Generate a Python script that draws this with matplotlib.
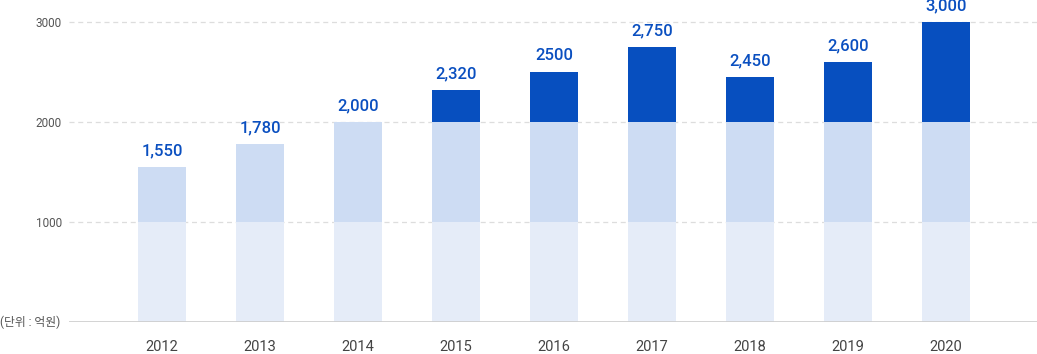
import matplotlib
matplotlib.use("Agg")
import matplotlib.pyplot as plt
import numpy as np

plt.rcParams['font.family'] = ['Roboto', 'Noto Sans CJK KR', 'DejaVu Sans']

# 데이터
years = ['2012', '2013', '2014', '2015', '2016', '2017', '2018', '2019', '2020']
values = [1550, 1780, 2000, 2320, 2500, 2750, 2450, 2600, 3000]
value_labels = ['1,550', '1,780', '2,000', '2,320', '2500', '2,750', '2,450', '2,600', '3,000']
y_ticks = [1000, 2000, 3000]
unit_label = '(단위 : 억원)'

c_low = '#e5ecf8'      # 0~1000
c_mid = '#cddcf3'      # 1000~2000
c_high = '#074fbf'     # 2000~
c_text = '#0a4fc0'

W, H = 1037, 354
fig = plt.figure(figsize=(W / 100, H / 100), dpi=100)
ax = fig.add_axes([69 / W, (H - 322) / H, 968 / W, 320 / H])

x = np.arange(len(years))
v = np.array(values)
low = np.minimum(v, 1000)
mid = np.clip(v - 1000, 0, 1000)
high = np.clip(v - 2000, 0, None)

bw = 0.49
ax.bar(x, low, width=bw, color=c_low, zorder=2)
ax.bar(x, mid, width=bw, bottom=low, color=c_mid, zorder=2)
ax.bar(x, high, width=bw, bottom=low + mid, color=c_high, zorder=2)

for xi, vi, lab in zip(x, values, value_labels):
    ax.annotate(lab, (xi, vi), xytext=(0, 6.5), textcoords='offset points',
                ha='center', va='bottom', fontsize=12, color=c_text,
                fontweight='medium', annotation_clip=False)

ax.set_xlim(-0.949, 8.93)
ax.set_ylim(0, 3200)

for t in y_ticks:
    ax.axhline(t, color='#dddddd', lw=0.9, ls=(0, (4, 3)), zorder=1)
ax.axhline(0, color='#cccccc', lw=1.2, zorder=3)

for s in ax.spines.values():
    s.set_visible(False)

ax.set_yticks(y_ticks)
ax.set_yticklabels([str(t) for t in y_ticks], fontsize=8.5, color='#555555')
ax.tick_params(axis='y', length=0, pad=5)
ax.set_xticks(x)
ax.set_xticklabels(years, fontsize=10.5, color='#444444')
ax.tick_params(axis='x', length=0, pad=13)

fig.text(0.5 / W, (H - 322) / H, unit_label, ha='left', va='center',
         fontsize=8.5, color='#555555')

fig.savefig('out.png', dpi=100)
